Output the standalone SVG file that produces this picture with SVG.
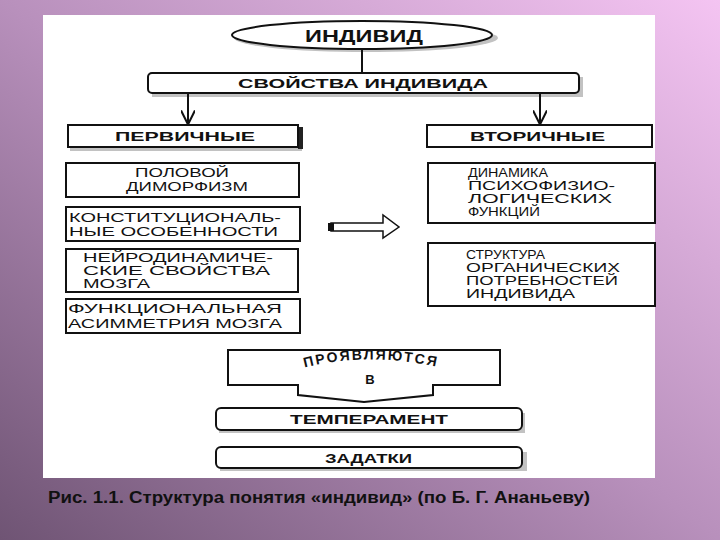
<svg xmlns="http://www.w3.org/2000/svg" width="720" height="540" viewBox="0 0 720 540">
<defs>
<linearGradient id="bg" x1="0" y1="1" x2="1" y2="0">
<stop offset="0" stop-color="#6f5474"/>
<stop offset="0.5" stop-color="#b890bc"/>
<stop offset="1" stop-color="#f4c4f2"/>
</linearGradient>
<marker id="ah" viewBox="0 0 10 10" refX="9" refY="5" markerWidth="7" markerHeight="7" orient="auto"><path d="M0,0 L10,5 L0,10" fill="none" stroke="#111" stroke-width="1.5"/></marker>
<path id="arc" d="M275,377 Q364,343 468,375"/>
<style>
.b{fill:#fff;stroke:#111;stroke-width:2}
.sh{fill:#999;opacity:0.6}
.t{font-family:"Liberation Sans",Arial,sans-serif;font-weight:bold;fill:#111;font-size:13px}
.l{font-family:"Liberation Sans",Arial,sans-serif;fill:#111;font-size:12.5px}
.c{stroke:#111;stroke-width:2;fill:none}
</style>
</defs>
<rect width="720" height="540" fill="url(#bg)"/>
<rect x="43" y="15" width="612" height="463" fill="#fff"/>
<g id="individ"><ellipse cx="366" cy="38" rx="132" ry="14" class="sh"/><ellipse cx="362" cy="35" rx="130" ry="14" class="b"/><text x="305" y="42" class="t" style="font-size:17px" textLength="118" lengthAdjust="spacingAndGlyphs">ИНДИВИД</text></g>
<g id="svoistva"><rect x="152" y="77" width="431" height="20" class="sh"/><rect x="148" y="73" width="431" height="20" rx="4" class="b"/><text x="238" y="88" class="t" textLength="250" lengthAdjust="spacingAndGlyphs">СВОЙСТВА ИНДИВИДА</text></g>
<g id="pervichnye"><rect x="70" y="145" width="232" height="6" class="sh"/><rect x="298" y="127" width="5" height="22" fill="#222"/><rect x="68" y="125" width="230" height="22" class="b"/><text x="115" y="141" class="t" textLength="140" lengthAdjust="spacingAndGlyphs">ПЕРВИЧНЫЕ</text></g>
<g id="vtorichnye"><rect x="427" y="125" width="225" height="22" class="b"/><text x="470" y="141" class="t" textLength="135" lengthAdjust="spacingAndGlyphs">ВТОРИЧНЫЕ</text></g>
<g id="polovoi"><rect x="66" y="163" width="233" height="34" class="b"/><text x="135" y="177" class="l" textLength="94" lengthAdjust="spacingAndGlyphs">ПОЛОВОЙ</text><text x="126" y="191" class="l" textLength="122" lengthAdjust="spacingAndGlyphs">ДИМОРФИЗМ</text></g>
<g id="konst"><rect x="66" y="207" width="234" height="34" class="b"/><text x="69" y="222" class="l" textLength="212" lengthAdjust="spacingAndGlyphs">КОНСТИТУЦИОНАЛЬ-</text><text x="69" y="236" class="l" textLength="209" lengthAdjust="spacingAndGlyphs">НЫЕ ОСОБЕННОСТИ</text></g>
<g id="neiro"><rect x="66" y="249" width="232" height="43" class="b"/><text x="83" y="262" class="l" textLength="190" lengthAdjust="spacingAndGlyphs">НЕЙРОДИНАМИЧЕ-</text><text x="83" y="275" class="l" textLength="187" lengthAdjust="spacingAndGlyphs">СКИЕ СВОЙСТВА</text><text x="83" y="288" class="l" textLength="67" lengthAdjust="spacingAndGlyphs">МОЗГА</text></g>
<g id="funk"><rect x="66" y="299" width="234" height="34" class="b"/><text x="68" y="313" class="l" textLength="214" lengthAdjust="spacingAndGlyphs">ФУНКЦИОНАЛЬНАЯ</text><text x="68" y="328" class="l" textLength="214" lengthAdjust="spacingAndGlyphs">АСИММЕТРИЯ МОЗГА</text></g>
<g id="dinamika"><rect x="428" y="163" width="227" height="60" class="b"/><text x="468" y="177" class="l" textLength="80" lengthAdjust="spacingAndGlyphs">ДИНАМИКА</text><text x="468" y="190" class="l" textLength="147" lengthAdjust="spacingAndGlyphs">ПСИХОФИЗИО-</text><text x="468" y="203" class="l" textLength="144" lengthAdjust="spacingAndGlyphs">ЛОГИЧЕСКИХ</text><text x="468" y="216" class="l" textLength="72" lengthAdjust="spacingAndGlyphs">ФУНКЦИЙ</text></g>
<g id="struktura"><rect x="428" y="243" width="227" height="63" class="b"/><text x="466" y="259" class="l" textLength="79" lengthAdjust="spacingAndGlyphs">СТРУКТУРА</text><text x="466" y="272" class="l" textLength="154" lengthAdjust="spacingAndGlyphs">ОРГАНИЧЕСКИХ</text><text x="466" y="285" class="l" textLength="152" lengthAdjust="spacingAndGlyphs">ПОТРЕБНОСТЕЙ</text><text x="466" y="298" class="l" textLength="109" lengthAdjust="spacingAndGlyphs">ИНДИВИДА</text></g>
<g id="proyav"><path d="M228,350 H500 V385 H433 V395 L364,402 L298,395 V385 H228 Z" class="b"/>
<text class="t" style="font-size:14px;letter-spacing:2px"><textPath href="#arc" startOffset="50%" text-anchor="middle">ПРОЯВЛЯЮТСЯ</textPath></text>
<text x="370" y="384" class="t" text-anchor="middle">В</text></g>
<g id="temperament"><rect x="219" y="413" width="306" height="20" class="sh"/><rect x="216" y="408" width="306" height="22" rx="5" class="b"/><text x="290" y="424" class="t" textLength="158" lengthAdjust="spacingAndGlyphs">ТЕМПЕРАМЕНТ</text></g>
<g id="zadatki"><rect x="220" y="452" width="307" height="19" class="sh"/><rect x="216" y="447" width="306" height="21" rx="5" class="b"/><text x="325" y="463" class="t" textLength="87" lengthAdjust="spacingAndGlyphs">ЗАДАТКИ</text></g>
<g id="connectors">
<line x1="362" y1="49" x2="362" y2="73" class="c"/>
<line x1="188" y1="93" x2="188" y2="123" class="c" marker-end="url(#ah)"/>
<line x1="540" y1="93" x2="540" y2="123" class="c" marker-end="url(#ah)"/>
<path d="M331,223 H383 V215 L399,227 L383,238 V231 H331 Z" fill="#fff" stroke="#111" stroke-width="1.5"/>
<rect x="328" y="223" width="6" height="8" fill="#111"/>
</g>
<text x="48" y="503" font-family="Liberation Sans, Arial, sans-serif" font-size="16" font-weight="bold" fill="#111" textLength="542" lengthAdjust="spacingAndGlyphs">Рис. 1.1. Структура понятия «индивид» (по Б. Г. Ананьеву)</text>
</svg>
